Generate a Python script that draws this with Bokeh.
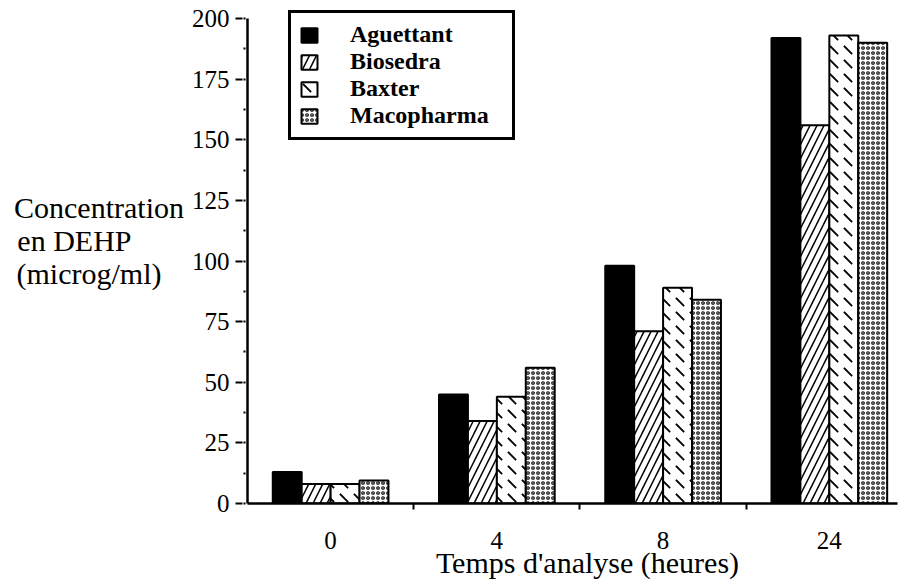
from bokeh.plotting import figure
from bokeh.models import (ColumnDataSource, Range1d, FixedTicker, SingleIntervalTicker,
                          Legend, LegendItem)
from bokeh.embed import file_html
from bokeh.resources import INLINE

# ---- data ----
times = ["0", "4", "8", "24"]
series = ["Aguettant", "Biosedra", "Baxter", "Macopharma"]
aguettant = [13, 45, 98, 192]
biosedra = [8, 34, 71, 156]
baxter = [8, 44, 89, 193]
macopharma = [9.5, 56, 84, 190]
y_ticks_interval = 25
y_max = 200

values = [aguettant, biosedra, baxter, macopharma]

# ---- styles ----
FONT = "Liberation Serif"
NB = "\u00a0"
bar_w = 0.174
offsets = [-1.5 * bar_w, -0.5 * bar_w, 0.5 * bar_w, 1.5 * bar_w]
styles = [
    dict(fill_color="black", hatch_pattern=None),
    dict(fill_color="white", hatch_pattern="right_diagonal_line", hatch_scale=14, hatch_weight=1.5),
    dict(fill_color="white", hatch_pattern="left_diagonal_dash", hatch_scale=14, hatch_weight=1.8),
    dict(fill_color="white", hatch_pattern="ring", hatch_scale=5, hatch_weight=1.2),
]

p = figure(width=901, height=584, output_backend="svg", toolbar_location=None,
           x_range=Range1d(-0.5, 3.41), y_range=Range1d(0, y_max * 1.0165),
           min_border_left=247, min_border_right=4, min_border_top=10, min_border_bottom=81)
p.outline_line_color = None
p.xgrid.visible = False
p.ygrid.visible = False
p.background_fill_color = "white"

idx = list(range(len(times)))
items = []
for k, name in enumerate(series):
    src = ColumnDataSource(dict(x=[i + offsets[k] for i in idx], top=values[k]))
    st = dict(styles[k])
    hp = st.pop("hatch_pattern")
    kw = dict(line_color="black", line_width=2, hatch_color="black")
    if hp:
        kw["hatch_pattern"] = hp
    kw.update(st)
    r = p.vbar(x="x", top="top", width=bar_w, bottom=0, source=src, **kw)
    items.append(LegendItem(label=name, renderers=[r]))

# x axis
xa = p.xaxis[0]
xa.ticker = FixedTicker(ticks=idx, minor_ticks=[0.5, 1.5, 2.5])
xa.major_label_overrides = {i: t for i, t in zip(idx, times)}
xa.major_tick_out = 0
xa.major_tick_in = 0
xa.minor_tick_out = 6
xa.minor_tick_in = 0
xa.minor_tick_line_width = 2
xa.axis_line_width = 2.5
xa.major_label_text_font = FONT
xa.major_label_text_font_size = "25px"
xa.major_label_text_color = "black"
xa.major_label_standoff = 22
xa.axis_label = NB * 4 + "Temps d'analyse (heures)"
xa.axis_label_text_font = FONT
xa.axis_label_text_font_size = "30px"
xa.axis_label_text_font_style = "normal"
xa.axis_label_text_color = "black"
xa.axis_label_standoff = -6

# y axis
ya = p.yaxis[0]
ya.bounds = (0, y_max)
ya.ticker = SingleIntervalTicker(interval=y_ticks_interval, num_minor_ticks=2)
ya.major_tick_in = -5
ya.major_tick_out = 12
ya.major_tick_line_width = 2
ya.minor_tick_in = -2
ya.minor_tick_out = 4
ya.minor_tick_line_width = 2
ya.axis_line_width = 2.5
ya.major_label_text_font = FONT
ya.major_label_text_font_size = "25px"
ya.major_label_text_color = "black"
ya.major_label_standoff = 6
ya.axis_label = "Concentration\nen DEHP" + NB * 7 + "\n(microg/ml)" + NB * 3 + "\n"
ya.axis_label_orientation = "horizontal"
ya.axis_label_text_font = FONT
ya.axis_label_text_font_size = "30px"
ya.axis_label_text_font_style = "normal"
ya.axis_label_text_color = "black"
ya.axis_label_text_line_height = 1.0
ya.axis_label_standoff = 5

legend = Legend(items=items, location=(41, 363), orientation="vertical",
                label_text_font=FONT, label_text_font_style="bold", label_text_font_size="24px",
                label_text_color="black",
                glyph_width=20, glyph_height=18, label_height=20, spacing=0,
                padding=8, margin=0, label_standoff=31, label_width=154,
                border_line_color="black", border_line_width=3, border_line_alpha=1,
                background_fill_color="white", background_fill_alpha=1)
p.add_layout(legend)

open("out.html", "w").write(file_html(p, INLINE))
